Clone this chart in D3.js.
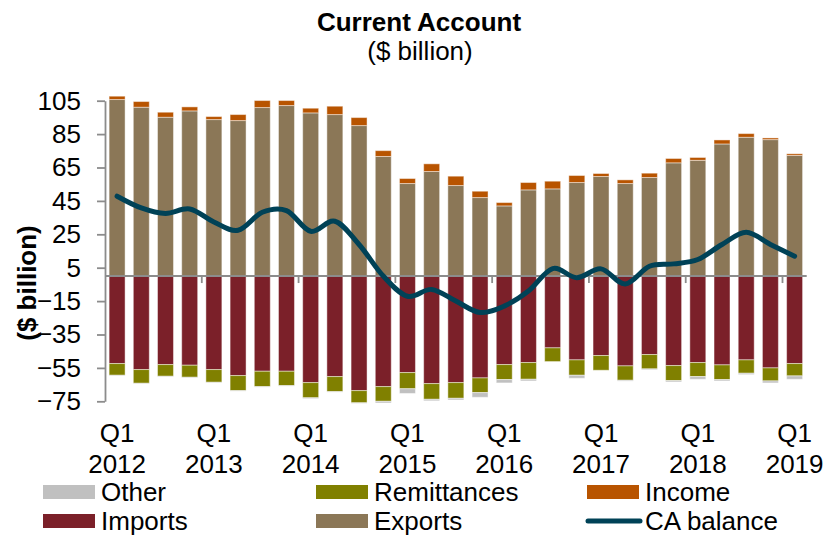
<!DOCTYPE html>
<html>
<head>
<meta charset="utf-8">
<script src="https://cdn.jsdelivr.net/npm/d3@7"></script>
<style>
  body { margin: 0; background: #fff; }
  svg { font-family: "Liberation Sans", Arial, sans-serif; }
</style>
</head>
<body>
<svg id="chart"></svg>
<script>
// Data ($ billion, quarterly)
let quarters = ["Q1 2012","Q2 2012","Q3 2012","Q4 2012","Q1 2013","Q2 2013","Q3 2013","Q4 2013",
  "Q1 2014","Q2 2014","Q3 2014","Q4 2014","Q1 2015","Q2 2015","Q3 2015","Q4 2015",
  "Q1 2016","Q2 2016","Q3 2016","Q4 2016","Q1 2017","Q2 2017","Q3 2017","Q4 2017",
  "Q1 2018","Q2 2018","Q3 2018","Q4 2018","Q1 2019"];
let exportsV = [105.7, 101.1, 95.1, 98.9, 93.7, 93.1, 100.9, 102.1, 97.7, 96.7, 90.1, 71.6, 55.4, 62.6, 54.2,
  47.0, 42.0, 51.6, 52.2, 56.0, 59.6, 55.4, 59.0, 67.8, 69.3, 79.1, 83.1, 81.7, 72.2];
let incomeV = [2.0, 3.4, 3.0, 2.4, 1.8, 3.6, 4.2, 3.0, 2.8, 5.0, 4.8, 3.5, 3.0, 4.6, 5.6,
  3.8, 2.0, 4.4, 4.6, 4.2, 1.8, 2.2, 2.6, 2.6, 1.7, 2.4, 2.2, 1.0, 1.0];
let importsV = [-52.4, -56.0, -53.0, -53.4, -56.0, -59.6, -57.0, -57.0, -63.8, -60.2, -68.6, -66.2, -57.8, -64.4, -63.8,
  -61.0, -53.0, -51.8, -43.0, -50.2, -47.6, -53.8, -47.0, -53.6, -51.8, -53.2, -50.2, -55.0, -52.4];
let remitV = [-7.0, -8.2, -7.0, -7.2, -7.6, -9.0, -9.2, -8.6, -9.1, -9.0, -7.3, -8.8, -9.7, -9.4, -9.4,
  -8.8, -9.0, -10.0, -8.2, -9.2, -8.8, -8.6, -8.6, -9.0, -8.4, -8.8, -8.0, -7.8, -7.4];
let otherV = [-0.3, -0.3, -0.3, -0.3, -0.3, -0.3, -0.3, -0.3, -0.5, -0.3, -0.3, -1.0, -2.8, -0.9, -1.0,
  -2.8, -2.0, -1.0, 0, -1.8, 0, -0.5, -0.5, -0.8, -1.6, -0.8, -0.8, -1.2, -2.0];
let caBalance = [47.8, 40.8, 37.5, 40.2, 32.4, 27.4, 38.2, 39.2, 26.8, 32.8, 18.9, 0.0, -12.1, -8.0, -15.0,
  -21.8, -18.0, -9.0, 4.5, -1.0, 4.3, -4.7, 5.9, 7.3, 9.9, 18.9, 26.2, 18.9, 11.9];
let yTicks = [105, 85, 65, 45, 25, 5, -15, -35, -55, -75];

let width = 832;
let height = 536;

let svg = d3.select("#chart")
  .attr("width", width)
  .attr("height", height);

// Scales
let x = d3.scaleBand()
  .domain(quarters)
  .range([105, 806.7])
  .paddingInner(0.34)
  .paddingOuter(0.17);

let y = d3.scaleLinear()
  .domain([-75, 105])
  .range([401.3, 100.7]);

let colors = {
  Other: "#c0c0c0",
  Remittances: "#808000",
  Income: "#b85400",
  Imports: "#7b2029",
  Exports: "#8b7757",
  CA: "#004257"
};

// Build stacked segments: positive side exports then income; negative side imports, remittances, other
let segs = [];
quarters.forEach((q, i) => {
  let pos = 0, neg = 0;
  [["Exports", exportsV[i]], ["Income", incomeV[i]]].forEach(([k, v]) => {
    segs.push({ q: q, key: k, y0: pos, y1: pos + v });
    pos += v;
  });
  [["Imports", importsV[i]], ["Remittances", remitV[i]], ["Other", otherV[i]]].forEach(([k, v]) => {
    segs.push({ q: q, key: k, y0: neg, y1: neg + v });
    neg += v;
  });
});

// Bars
svg.append("g")
  .selectAll("rect")
  .data(segs.filter(d => d.y1 !== d.y0))
  .enter()
  .append("rect")
  .attr("x", d => x(d.q))
  .attr("width", x.bandwidth())
  .attr("y", d => y(Math.max(d.y0, d.y1)))
  .attr("height", d => Math.abs(y(d.y0) - y(d.y1)))
  .attr("fill", d => colors[d.key])
  .attr("stroke", "rgba(255,255,255,0.45)")
  .attr("stroke-width", 1);

// Y axis
let yAxis = svg.append("g")
  .attr("transform", "translate(105,0)")
  .call(d3.axisLeft(y).tickValues(yTicks).tickSize(8).tickSizeOuter(0).tickPadding(16).tickFormat(d3.format("d")));
yAxis.select(".domain").attr("stroke", "#8c8c8c").attr("stroke-width", 1.8);
yAxis.selectAll(".tick line").attr("stroke", "#8c8c8c").attr("stroke-width", 1.8);
yAxis.selectAll(".tick text")
  .attr("fill", "#000")
  .attr("font-size", 26)
  .attr("font-family", "Liberation Sans, Arial, sans-serif");

// Zero line with year ticks
svg.append("line")
  .attr("x1", 105).attr("x2", 806.7)
  .attr("y1", y(0)).attr("y2", y(0))
  .attr("stroke", "#8c8c8c").attr("stroke-width", 2);

let step = x.step();
let yearStarts = quarters.filter((q, i) => i > 0 && i % 4 === 0);
svg.append("g")
  .selectAll("line")
  .data(yearStarts)
  .enter()
  .append("line")
  .attr("x1", d => x(d) - (step - x.bandwidth()) / 2)
  .attr("x2", d => x(d) - (step - x.bandwidth()) / 2)
  .attr("y1", y(0))
  .attr("y2", y(0) + 7)
  .attr("stroke", "#8c8c8c").attr("stroke-width", 1.8);

// X labels (every Q1)
let labelQs = quarters.filter((q, i) => i % 4 === 0);
let xl = svg.append("g")
  .selectAll("text")
  .data(labelQs)
  .enter()
  .append("text")
  .attr("text-anchor", "middle")
  .attr("font-size", 26)
  .attr("fill", "#000");
xl.append("tspan")
  .attr("x", d => x(d) + x.bandwidth() / 2)
  .attr("y", 442)
  .text(d => d.split(" ")[0]);
xl.append("tspan")
  .attr("x", d => x(d) + x.bandwidth() / 2)
  .attr("y", 473)
  .text(d => d.split(" ")[1]);

// CA balance line
let line = d3.line()
  .x((d, i) => x(quarters[i]) + x.bandwidth() / 2)
  .y(d => y(d))
  .curve(d3.curveCardinal.tension(0));

svg.append("path")
  .datum(caBalance)
  .attr("d", line)
  .attr("fill", "none")
  .attr("stroke", colors.CA)
  .attr("stroke-width", 5)
  .attr("stroke-linecap", "round")
  .attr("stroke-linejoin", "round");

// Titles
svg.append("text")
  .attr("x", 419).attr("y", 31)
  .attr("text-anchor", "middle")
  .attr("font-size", 26)
  .attr("font-weight", "bold")
  .text("Current Account");
svg.append("text")
  .attr("x", 420).attr("y", 60)
  .attr("text-anchor", "middle")
  .attr("font-size", 26)
  .text("($ billion)");
svg.append("text")
  .attr("transform", "translate(36,283) rotate(-90)")
  .attr("text-anchor", "middle")
  .attr("font-size", 26)
  .attr("font-weight", "bold")
  .text("($ billion)");

// Legend
let legendItems = [
  { label: "Other", key: "Other", col: 0, row: 0 },
  { label: "Remittances", key: "Remittances", col: 1, row: 0 },
  { label: "Income", key: "Income", col: 2, row: 0 },
  { label: "Imports", key: "Imports", col: 0, row: 1 },
  { label: "Exports", key: "Exports", col: 1, row: 1 },
  { label: "CA balance", key: "CA", col: 2, row: 1 }
];
let colX = [43, 316, 587];
let rowY = [492, 521];

let lg = svg.append("g")
  .selectAll("g")
  .data(legendItems)
  .enter()
  .append("g")
  .attr("transform", d => `translate(${colX[d.col]},${rowY[d.row]})`);

lg.filter(d => d.key !== "CA")
  .append("rect")
  .attr("x", 0).attr("y", -7)
  .attr("width", 52).attr("height", 14)
  .attr("fill", d => colors[d.key]);

lg.filter(d => d.key === "CA")
  .append("line")
  .attr("x1", 1).attr("x2", 53)
  .attr("y1", 0).attr("y2", 0)
  .attr("stroke", colors.CA)
  .attr("stroke-width", 5)
  .attr("stroke-linecap", "round");

lg.append("text")
  .attr("x", 58)
  .attr("y", 9)
  .attr("font-size", 26)
  .attr("fill", "#000")
  .text(d => d.label);
</script>
</body>
</html>
